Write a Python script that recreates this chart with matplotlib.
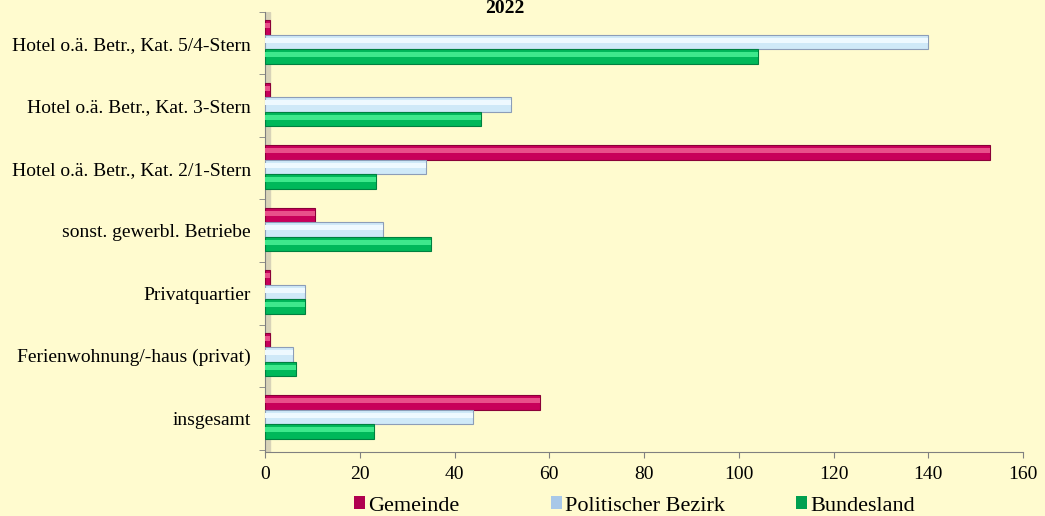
import matplotlib
matplotlib.use("Agg")
import matplotlib.pyplot as plt
import numpy as np
from matplotlib.patches import Patch

categories = ["Hotel o.ä. Betr., Kat. 5/4-Stern", "Hotel o.ä. Betr., Kat. 3-Stern",
              "Hotel o.ä. Betr., Kat. 2/1-Stern", "sonst. gewerbl. Betriebe",
              "Privatquartier", "Ferienwohnung/-haus (privat)", "insgesamt"]
gemeinde = [1, 1, 153, 10.5, 1, 1, 58]
bezirk = [140, 52, 34, 25, 8.5, 6, 44]
bundesland = [104, 45.5, 23.5, 35, 8.5, 6.5, 23]
series_names = ["Gemeinde", "Politischer Bezirk", "Bundesland"]
xticks = [0, 20, 40, 60, 80, 100, 120, 140, 160]

bg = "#FFFBCF"
plt.rcParams['font.family'] = ['Liberation Serif', 'DejaVu Serif']

fig = plt.figure(figsize=(10.45, 5.16), dpi=100, facecolor=bg)
ax = fig.add_axes([265/1045, 1-452/516, (1023-265)/1045, 440/516])
ax.set_facecolor(bg)

y = np.arange(len(categories))
h = 0.23
styles = [
    (gemeinde, -0.25, "#C8005A", "#E8508A", "#8A0038"),
    (bezirk, -0.02, "#CFE9F8", "#EEF9FF", "#8C9DB8"),
    (bundesland, 0.21, "#00B85A", "#3EE88C", "#008040"),
]
for vals, off, base, hi, edge in styles:
    ax.barh(y + off, vals, height=h, color=base, edgecolor=edge, linewidth=0.8, zorder=3)
    ax.barh(y + off - h*0.12, vals, height=h*0.35, color=hi, linewidth=0, zorder=4)

ax.set_xlim(0, 160)
ax.set_ylim(6.54, -0.5)
ax.set_xticks(xticks)
ax.set_xticklabels([str(t) for t in xticks], fontsize=14)
ax.set_yticks(y)
ax.set_yticklabels(categories, fontsize=14)
ax.set_yticks(np.arange(-0.5, 6.6, 1), minor=True)
ax.tick_params(axis='y', which='major', length=0, pad=10)
ax.tick_params(axis='y', which='minor', length=4, color='#808080')
ax.tick_params(axis='x', length=4, color='#808080', pad=6)
for s in ['top', 'right']:
    ax.spines[s].set_visible(False)
ax.spines['left'].set_color('#808080')
ax.spines['bottom'].set_color('#808080')
ax.axvspan(0, 1.0, color='#D8D3B8', zorder=1)

# legend entries
leg_colors = ["#B0004F", "#A8C8E8", "#00A050"]
leg_x = [354, 551, 796]
for name, col, lx in zip(series_names, leg_colors, leg_x):
    fig.legend([Patch(facecolor=col, edgecolor='none')], [name], loc='center left',
               bbox_to_anchor=(lx/1045, 1-506/516), frameon=False, fontsize=16,
               handlelength=0.5, handleheight=0.5, handletextpad=0.15,
               borderpad=0, borderaxespad=0)

fig.text(505/1045, 1.0, "2022", ha='center', va='top', fontsize=14, fontweight='bold')

fig.savefig("out.png", dpi=100, facecolor=bg)
